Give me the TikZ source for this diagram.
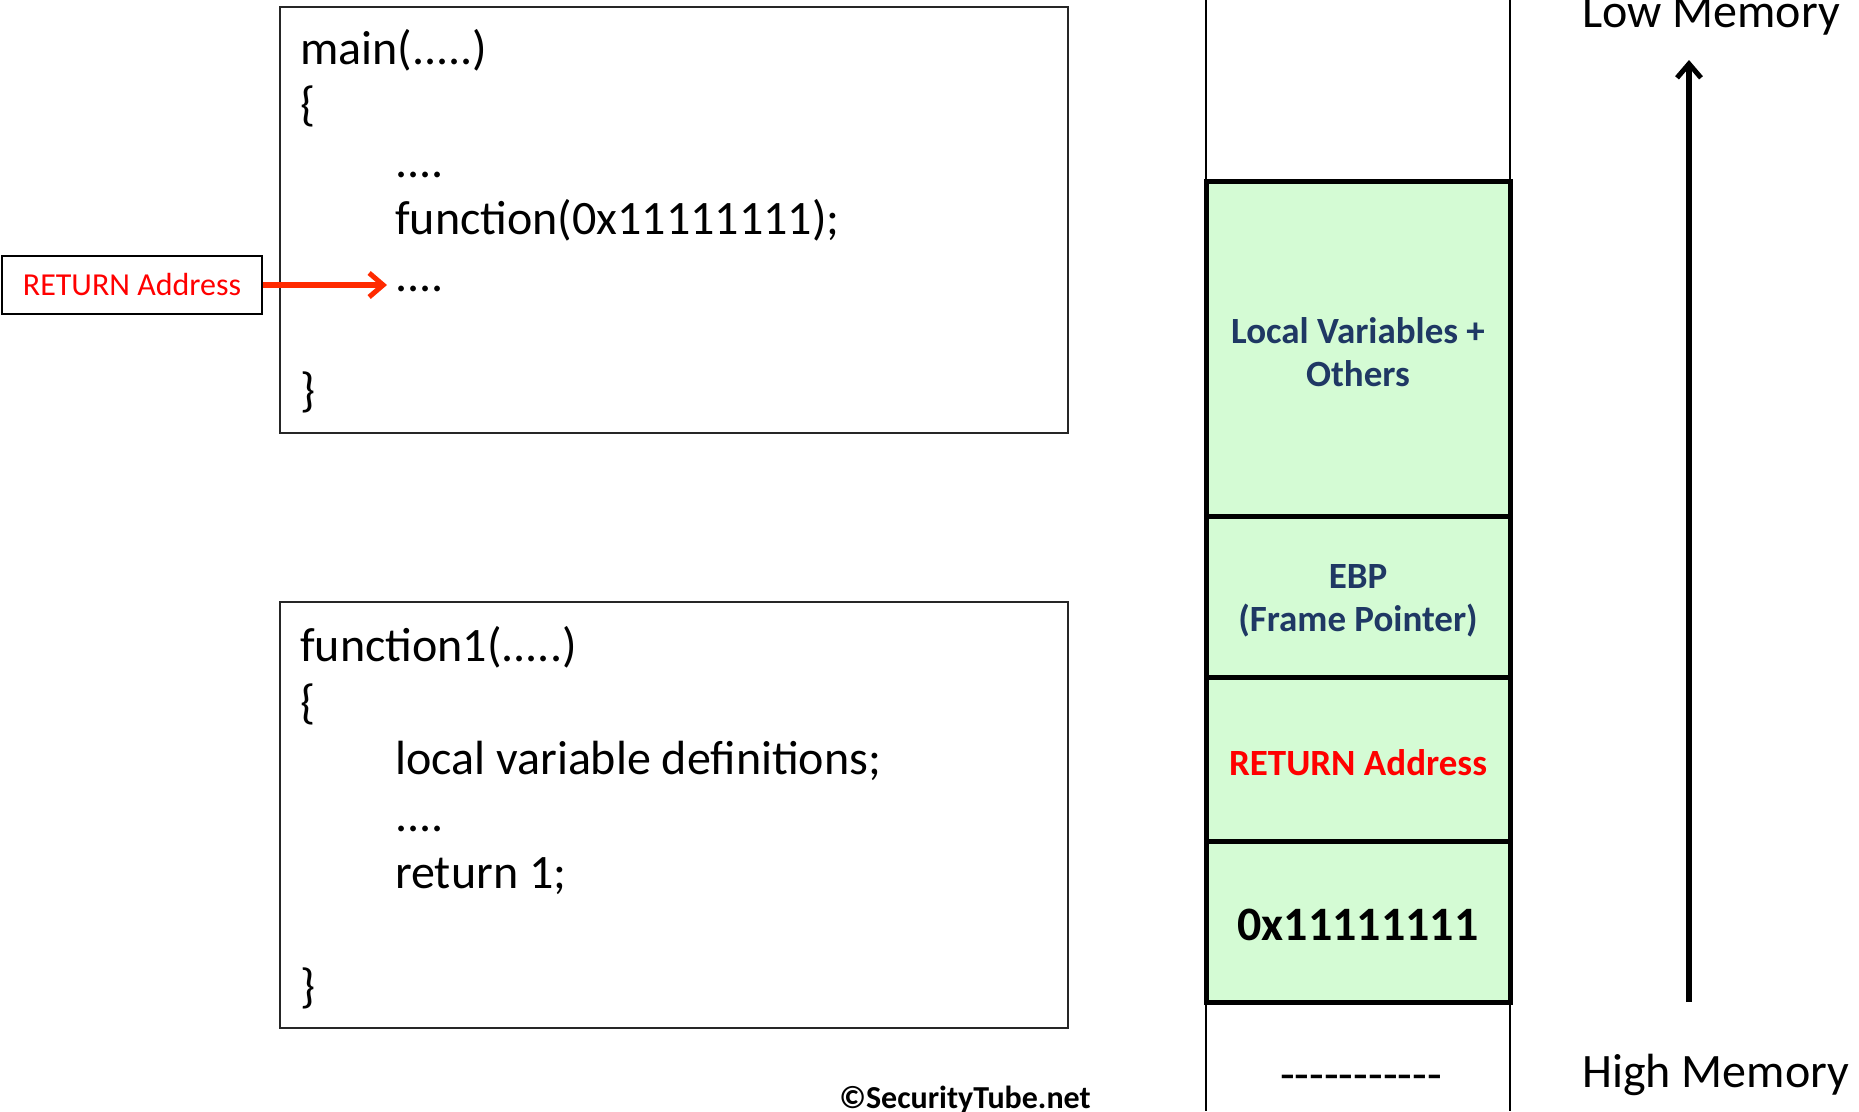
\documentclass[tikz,border=0pt]{standalone}
\usepackage{fontspec}
\setmainfont{Carlito}
\usetikzlibrary{arrows.meta}
\definecolor{stackgreen}{HTML}{D4FBD4}
\definecolor{navytext}{HTML}{1F3864}
\definecolor{arrowred}{HTML}{FF2A00}
\begin{document}
\begin{tikzpicture}[x=1pt,y=-1pt,
  codebox/.style={draw=black!85, line width=1.5pt, minimum width=788pt, minimum height=426pt, inner sep=0pt},
  codeline/.style={anchor=base west, inner sep=0pt, font=\fontsize{48}{57}\selectfont},
  stackcell/.style={draw=black, line width=5pt, fill=stackgreen, minimum width=304pt, inner sep=0pt},
  celltext/.style={align=center, inner sep=0pt, font=\fontsize{37}{43}\selectfont\bfseries, text=navytext},
  sidelabel/.style={anchor=base west, inner sep=0pt, font=\fontsize{48}{57}\selectfont},
  upbarb/.style={-{Straight Barb[length=14pt,width=24pt,line width=5pt]}, line width=5.5pt}
]
\useasboundingbox (0,0) rectangle (1859,1111);

% code boxes
\node[codebox] (mainbox) at (674,220) {};
\node[codebox] (funcbox) at (674,815) {};

% main code
\node[codeline] (m1) at (300,64) {main(.....)};
\node[codeline] (m2) at (300,120) {\{};
\node[codeline] (m3) at (395,177) {....};
\node[codeline] (m4) at (395,234) {function(0x11111111);};
\node[codeline] (m5) at (395,291) {....};
\node[codeline] (m6) at (300,406) {\}};

% function1 code
\node[codeline] (f1) at (300,661) {function1(.....)};
\node[codeline] (f2) at (300,718) {\{};
\node[codeline] (f3) at (395,774) {local variable definitions;};
\node[codeline] (f4) at (395,831) {....};
\node[codeline] (f5) at (395,888) {return 1;};
\node[codeline] (f6) at (300,1002) {\}};

% return address label
\node[draw=black, line width=1.5pt, minimum width=260pt, minimum height=58pt, inner sep=0pt,
      font=\fontsize{32}{38}\selectfont, text=red] (retlabel) at (132,285) {RETURN Address};
\coordinate (retpoint) at (387,285);
\draw[upbarb, draw=arrowred] (retlabel.east) -- (retpoint);

% stack column
\draw[line width=1.5pt] (1206,0) -- (1206,1111);
\draw[line width=1.5pt] (1510,0) -- (1510,1111);
\node[stackcell, minimum height=335pt] (local) at (1358,348.5) {};
\node[stackcell, minimum height=161pt] (ebp) at (1358,596.5) {};
\node[stackcell, minimum height=164pt] (retcell) at (1358,759) {};
\node[stackcell, minimum height=161pt] (hexcell) at (1358,921.5) {};
\node[celltext] (localtxt) at (1358,352) {Local Variables +\\Others};
\node[celltext] (ebptxt) at (1358,601) {EBP\\(Frame Pointer)};
\node[celltext, text=red] (rettxt) at (1358,763) {RETURN Address};
\node[celltext, text=black, font=\fontsize{48}{57}\selectfont\bfseries] (hextxt) at (1358,925) {0x11111111};
\node[anchor=base, inner sep=0pt, font=\fontsize{48}{57}\selectfont] (dashes) at (1361,1090) {-{}-{}-{}-{}-{}-{}-{}-{}-{}-{}-};

% memory direction
\coordinate (arrbot) at (1689,1002);
\coordinate (arrtop) at (1689,60);
\draw[upbarb] (arrbot) -- (arrtop);
\node[sidelabel] (lowmem) at (1582,27) {Low Memory};
\node[sidelabel] (highmem) at (1582,1087) {High Memory};

% copyright
\node[anchor=base, inner sep=0pt, font=\fontsize{32}{38}\selectfont\bfseries] (copy) at (965,1108) {©SecurityTube.net};
\end{tikzpicture}
\end{document}
